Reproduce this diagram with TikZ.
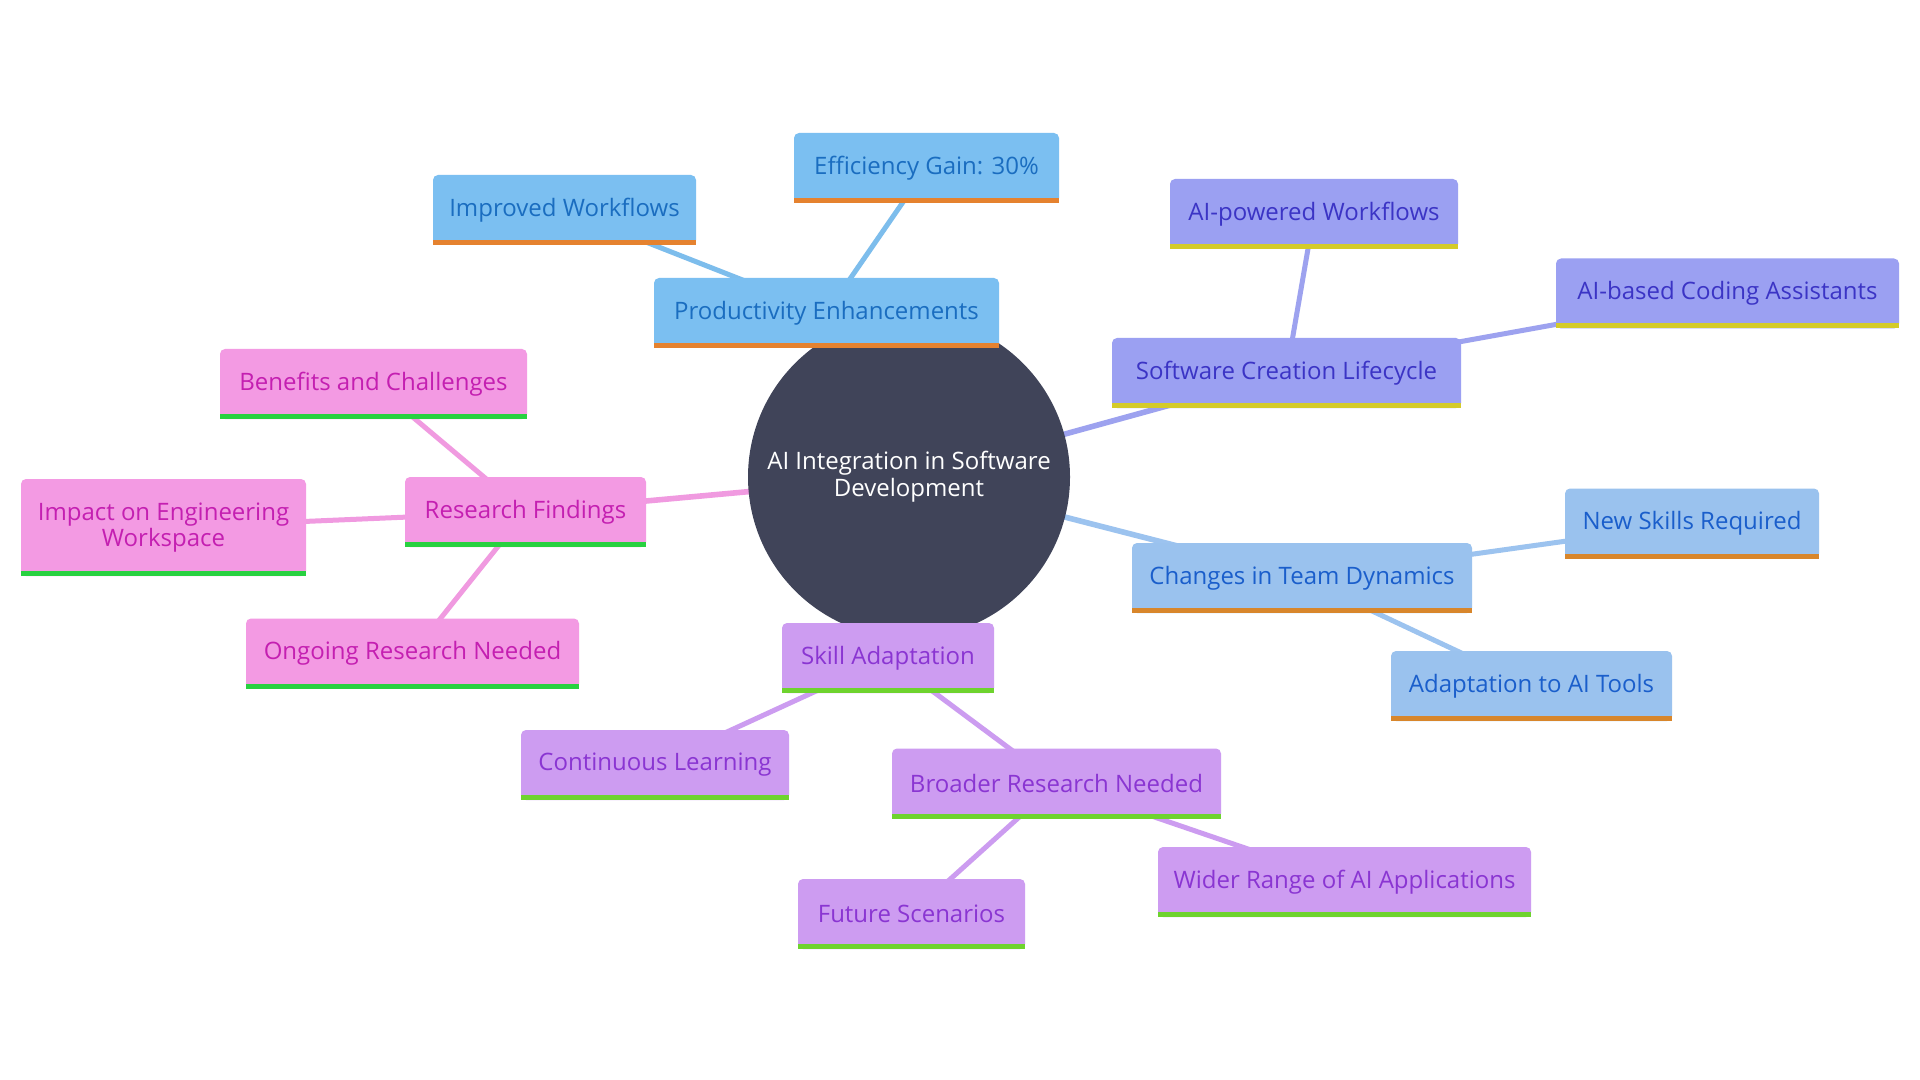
\documentclass[tikz,border=0pt]{standalone}
\usepackage{fontspec}
\setmainfont{Open Sans}
\usetikzlibrary{backgrounds}
\definecolor{rootc}{HTML}{404459}
\definecolor{pfill}{HTML}{7BBFF1}\definecolor{ptext}{HTML}{1A6DC0}\definecolor{pbar}{HTML}{E5822F}\definecolor{pline}{HTML}{7DBDEC}
\definecolor{sfill}{HTML}{9BA0F2}\definecolor{stext}{HTML}{3B34C5}\definecolor{sbar}{HTML}{D4CB2A}\definecolor{sline}{HTML}{9DA2EF}
\definecolor{tfill}{HTML}{9AC2EE}\definecolor{ttext}{HTML}{1A5ECB}\definecolor{tbar}{HTML}{D8862B}\definecolor{tline}{HTML}{9CC3EF}
\definecolor{kfill}{HTML}{CD9CF1}\definecolor{ktext}{HTML}{8A35D2}\definecolor{kbar}{HTML}{6ED32E}\definecolor{kline}{HTML}{CC9CF0}
\definecolor{rfill}{HTML}{F39AE3}\definecolor{rtext}{HTML}{C41FB1}\definecolor{rbar}{HTML}{28D140}\definecolor{rline}{HTML}{F09AE0}
\tikzset{
  box/.style={rectangle, rounded corners=2.5pt, outer sep=0pt, inner sep=0pt,
    minimum height=35pt, align=center, font=\fontsize{12}{13.2}\selectfont},
  pbox/.style={box, fill=pfill, text=ptext},
  sbox/.style={box, fill=sfill, text=stext},
  tbox/.style={box, fill=tfill, text=ttext},
  kbox/.style={box, fill=kfill, text=ktext},
  rbox/.style={box, fill=rfill, text=rtext},
  edge/.style={line width=2.5pt},
  rootedge/.style={line width=2.8pt}
}
\begin{document}
\begin{tikzpicture}[x=0.5pt,y=-0.5pt]
\useasboundingbox (0,0) rectangle (1920,1080);
\node[circle, fill=rootc, minimum size=161pt, inner sep=0pt, text=white, align=center,
  font=\fontsize{12}{13.5}\selectfont] (root) at (909,477) {AI Integration in Software\\Development};
% productivity branch
\node[pbox, minimum width=132.5pt] (eff) at (926.5,168) {Efficiency Gain: 30\%};
\node[pbox, minimum width=131.5pt] (imp) at (564.5,210) {Improved Workflows};
\node[pbox, minimum width=172.5pt] (prod) at (826.5,313) {Productivity Enhancements};
% software creation branch
\node[sbox, minimum width=144pt] (aiw) at (1314,214) {AI-powered Workflows};
\node[sbox, minimum width=171.5pt] (aic) at (1727.5,293.5) {AI-based Coding Assistants};
\node[sbox, minimum width=174.5pt] (scl) at (1286.5,373) {Software Creation Lifecycle};
% research branch
\node[rbox, minimum width=153.5pt] (ben) at (373.5,384) {Benefits and Challenges};
\node[rbox, minimum width=142.5pt, minimum height=48.5pt] (eng) at (163.5,527.5) {Impact on Engineering\\Workspace};
\node[rbox, minimum width=120.5pt] (res) at (525.5,512) {Research Findings};
\node[rbox, minimum width=166.5pt] (ong) at (412.5,653.5) {Ongoing Research Needed};
% team dynamics branch
\node[tbox, minimum width=127pt] (new) at (1692,523.5) {New Skills Required};
\node[tbox, minimum width=170pt] (ctd) at (1302,578) {Changes in Team Dynamics};
\node[tbox, minimum width=140.5pt] (ada) at (1531.5,686) {Adaptation to AI Tools};
% skill branch
\node[kbox, minimum width=106pt] (skl) at (888,658) {Skill Adaptation};
\node[kbox, minimum width=134pt] (con) at (655,765) {Continuous Learning};
\node[kbox, minimum width=164.5pt] (bro) at (1056.5,783.5) {Broader Research Needed};
\node[kbox, minimum width=113.5pt] (fut) at (911.5,914) {Future Scenarios};
\node[kbox, minimum width=186.5pt] (wid) at (1344.5,882) {Wider Range of AI Applications};
% bottom bars
\foreach \n/\c in {eff/pbar,imp/pbar,prod/pbar,aiw/sbar,aic/sbar,scl/sbar,ben/rbar,eng/rbar,res/rbar,ong/rbar,new/tbar,ctd/tbar,ada/tbar,skl/kbar,con/kbar,bro/kbar,fut/kbar,wid/kbar}
  \fill[\c] (\n.south west) rectangle ([yshift=2.5pt]\n.south east);
% connectors
\begin{scope}[on background layer]
  \fill[white] (0,0) rectangle (1920,1080);
  \draw[rootedge, pline] (root.center) -- (prod.center);
  \draw[rootedge, sline] (root.center) -- (scl.center);
  \draw[rootedge, tline] (root.center) -- (ctd.center);
  \draw[rootedge, kline] (root.center) -- (skl.center);
  \draw[rootedge, rline] (root.center) -- (res.center);
  \draw[edge, pline] (prod.center) -- (imp.center);
  \draw[edge, pline] (prod.center) -- (eff.center);
  \draw[edge, sline] (scl.center) -- (aiw.center);
  \draw[edge, sline] (scl.center) -- (aic.center);
  \draw[edge, tline] (ctd.center) -- (new.center);
  \draw[edge, tline] (ctd.center) -- (ada.center);
  \draw[edge, kline] (skl.center) -- (con.center);
  \draw[edge, kline] (skl.center) -- (bro.center);
  \draw[edge, kline] (bro.center) -- (fut.center);
  \draw[edge, kline] (bro.center) -- (wid.center);
  \draw[edge, rline] (res.center) -- (ben.center);
  \draw[edge, rline] (res.center) -- (eng.center);
  \draw[edge, rline] (res.center) -- (ong.center);
\end{scope}
\end{tikzpicture}
\end{document}
